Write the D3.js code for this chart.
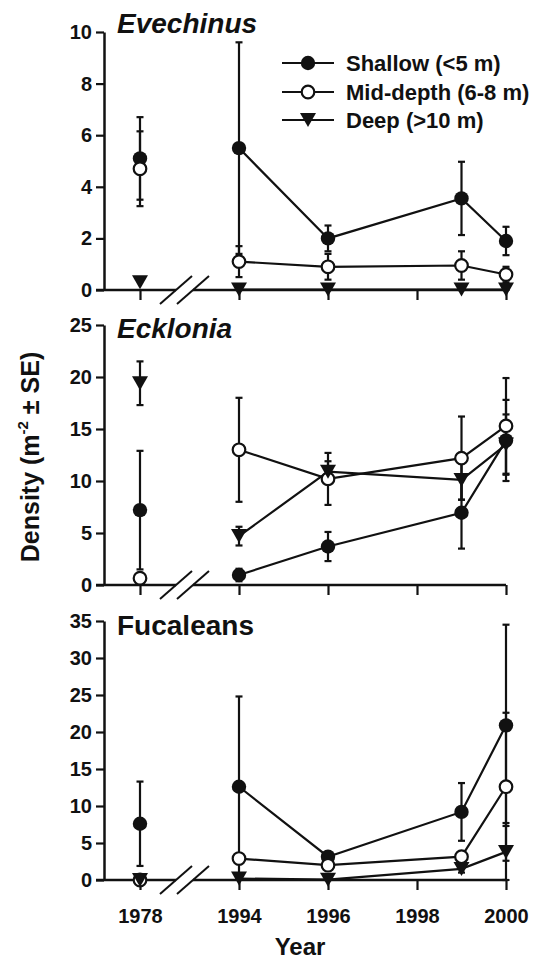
<!DOCTYPE html>
<html>
<head>
<meta charset="utf-8">
<script src="https://cdn.jsdelivr.net/npm/d3@7"></script>
<style>
  body { margin: 0; background: #fff; }
  svg { display: block; }
  text { font-family: "Liberation Sans", Arial, Helvetica, sans-serif; font-weight: bold; fill: #111; }
</style>
</head>
<body>
<script>
// Survey years and axis ticks
const years = [1978, 1994, 1996, 1999, 2000];
const tickYears = [1978, 1994, 1996, 1998, 2000];
const seriesNames = ["Shallow (<5 m)", "Mid-depth (6-8 m)", "Deep (>10 m)"];

// Evechinus density (m^-2) and SE
const evechinusShallow   = [5.1, 5.5, 2.0, 3.55, 1.9];
const evechinusShallowSE = [1.6, 4.1, 0.5, 1.42, 0.55];
const evechinusMid       = [4.7, 1.1, 0.9, 0.95, 0.6];
const evechinusMidSE     = [1.45, 0.6, 0.5, 0.55, 0.3];
const evechinusDeep      = [0.3, 0.02, 0.02, 0.02, 0.02];
const evechinusDeepSE    = [0, 0.05, 0.05, 0.05, 0.05];

// Ecklonia density (m^-2) and SE
const eckloniaShallow   = [7.2, 0.96, 3.7, 6.95, 13.9];
const eckloniaShallowSE = [5.7, 0.6, 1.4, 3.45, 3.9];
const eckloniaMid       = [0.65, 13.0, 10.2, 12.2, 15.3];
const eckloniaMidSE     = [0.3, 5.0, 2.5, 4.0, 4.6];
const eckloniaDeep      = [19.4, 4.7, 10.9, 10.1, 13.5];
const eckloniaDeepSE    = [2.1, 0.9, 1.0, 1.9, 2.9];

// Fucalean density (m^-2) and SE
const fucaleanShallow   = [7.6, 12.6, 3.15, 9.2, 20.9];
const fucaleanShallowSE = [5.7, 12.2, 0.5, 3.9, 13.6];
const fucaleanMid       = [0, 2.9, 2.0, 3.15, 12.6];
const fucaleanMidSE     = [0, 0.5, 0.4, 0.6, 10.0];
const fucaleanDeep      = [0, 0.2, 0.05, 1.5, 3.8];
const fucaleanDeepSE    = [0, 0.1, 0.05, 0.5, 3.9];

const W = 534, H = 959;
const axisLeftX = 104;
const axisRightX = 506;

const svg = d3.select("body").append("svg").attr("width", W).attr("height", H);

// Broken time axis: 1978 sits on its own before the 1994-2000 span
const x = d3.scaleLinear().domain([1978, 1994, 2000]).range([140, 239, 506]);

const panels = [
  { title: "Evechinus", italic: true,  top: 32,  bottom: 290, max: 10, step: 2, titleY: 33,
    series: [[evechinusShallow, evechinusShallowSE], [evechinusMid, evechinusMidSE], [evechinusDeep, evechinusDeepSE]] },
  { title: "Ecklonia",  italic: true,  top: 325, bottom: 585, max: 25, step: 5, titleY: 338,
    series: [[eckloniaShallow, eckloniaShallowSE], [eckloniaMid, eckloniaMidSE], [eckloniaDeep, eckloniaDeepSE]] },
  { title: "Fucaleans", italic: false, top: 621, bottom: 880, max: 35, step: 5, titleY: 635,
    series: [[fucaleanShallow, fucaleanShallowSE], [fucaleanMid, fucaleanMidSE], [fucaleanDeep, fucaleanDeepSE]] }
];

const triPath = "M-8,-7L8,-7L0,7Z";

function drawMarker(g, kind, cx, cy) {
  if (kind === 0) {
    g.append("circle").attr("cx", cx).attr("cy", cy).attr("r", 7.2).attr("fill", "#111");
  } else if (kind === 1) {
    g.append("circle").attr("cx", cx).attr("cy", cy).attr("r", 6.3)
      .attr("fill", "#fff").attr("stroke", "#111").attr("stroke-width", 2.2);
  } else {
    g.append("path").attr("d", triPath).attr("transform", `translate(${cx},${cy})`).attr("fill", "#111");
  }
}

panels.forEach((p, pi) => {
  const y = d3.scaleLinear().domain([0, p.max]).range([p.bottom, p.top]);
  const g = svg.append("g");

  // y axis
  const ya = g.append("g").attr("transform", `translate(${axisLeftX},0)`)
    .call(d3.axisLeft(y).tickValues(d3.range(0, p.max + 0.001, p.step)).tickSize(8).tickSizeOuter(0).tickPadding(4));
  ya.select(".domain").attr("stroke", "#111").attr("stroke-width", 2.5);
  ya.selectAll(".tick line").attr("stroke", "#111").attr("stroke-width", 2.2);
  ya.selectAll(".tick text").attr("font-size", 20).attr("font-family", null).attr("fill", "#111");

  // x axis ticks (labels only on the bottom panel)
  const xa = g.append("g").attr("transform", `translate(0,${p.bottom})`)
    .call(d3.axisBottom(x).tickValues(tickYears).tickSize(10).tickSizeOuter(0).tickPadding(19)
      .tickFormat(pi === panels.length - 1 ? d3.format("d") : () => ""));
  xa.select(".domain").remove();
  xa.selectAll(".tick line").attr("stroke", "#111").attr("stroke-width", 2.2);
  xa.selectAll(".tick text").attr("font-size", 20).attr("font-family", null).attr("fill", "#111");

  // x axis baseline with a scale break between 1978 and 1994
  const b1 = x(1978) + 36, b2 = x(1978) + 53;
  g.append("line").attr("x1", axisLeftX - 8).attr("x2", b1).attr("y1", p.bottom).attr("y2", p.bottom)
    .attr("stroke", "#111").attr("stroke-width", 2.5);
  g.append("line").attr("x1", b2).attr("x2", axisRightX).attr("y1", p.bottom).attr("y2", p.bottom)
    .attr("stroke", "#111").attr("stroke-width", 2.5);
  [b1, b2].forEach(bx => {
    g.append("line").attr("x1", bx - 16).attr("y1", p.bottom + 14).attr("x2", bx + 16).attr("y2", p.bottom - 14)
      .attr("stroke", "#111").attr("stroke-width", 2);
  });

  // panel title
  g.append("text").attr("x", 117).attr("y", p.titleY).attr("font-size", 28)
    .style("font-style", p.italic ? "italic" : "normal").text(p.title);

  // connecting lines for the 1994-2000 surveys
  const line = d3.line().x(d => x(d[0])).y(d => y(d[1]));
  p.series.forEach(([vals]) => {
    const pts = years.map((yr, i) => [yr, vals[i]]).filter(d => d[0] >= 1994);
    g.append("path").attr("d", line(pts)).attr("fill", "none").attr("stroke", "#111").attr("stroke-width", 2.2);
  });

  // error bars
  p.series.forEach(([vals, se]) => {
    years.forEach((yr, i) => {
      if (!se[i]) return;
      const cx = x(yr);
      const lo = y(Math.max(0, vals[i] - se[i])), hi = y(vals[i] + se[i]);
      g.append("line").attr("x1", cx).attr("x2", cx).attr("y1", lo).attr("y2", hi)
        .attr("stroke", "#111").attr("stroke-width", 2.2);
      [lo, hi].forEach(cy => g.append("line").attr("x1", cx - 3.5).attr("x2", cx + 3.5).attr("y1", cy).attr("y2", cy)
        .attr("stroke", "#111").attr("stroke-width", 2.2));
    });
  });

  // markers
  p.series.forEach(([vals], si) => {
    years.forEach((yr, i) => drawMarker(g, si, x(yr), y(vals[i])));
  });
});

// legend
const legendRows = [63, 92, 120];
seriesNames.forEach((name, i) => {
  const ly = legendRows[i];
  svg.append("line").attr("x1", 282).attr("x2", 334).attr("y1", ly).attr("y2", ly)
    .attr("stroke", "#111").attr("stroke-width", 2.2);
  drawMarker(svg, i, 308, ly);
  svg.append("text").attr("x", 346).attr("y", ly).attr("dy", "0.36em").attr("font-size", 22).text(name);
});

// axis titles
svg.append("text").attr("x", 300).attr("y", 955).attr("text-anchor", "middle").attr("font-size", 24).text("Year");

const yt = svg.append("text").attr("transform", "translate(39,457) rotate(-90)")
  .attr("text-anchor", "middle").attr("font-size", 25);
yt.append("tspan").text("Density (m");
yt.append("tspan").attr("font-size", 15).attr("dy", "-0.75em").text("-2");
yt.append("tspan").attr("dy", "0.45em").text(" \u00b1 SE)");
</script>
</body>
</html>
